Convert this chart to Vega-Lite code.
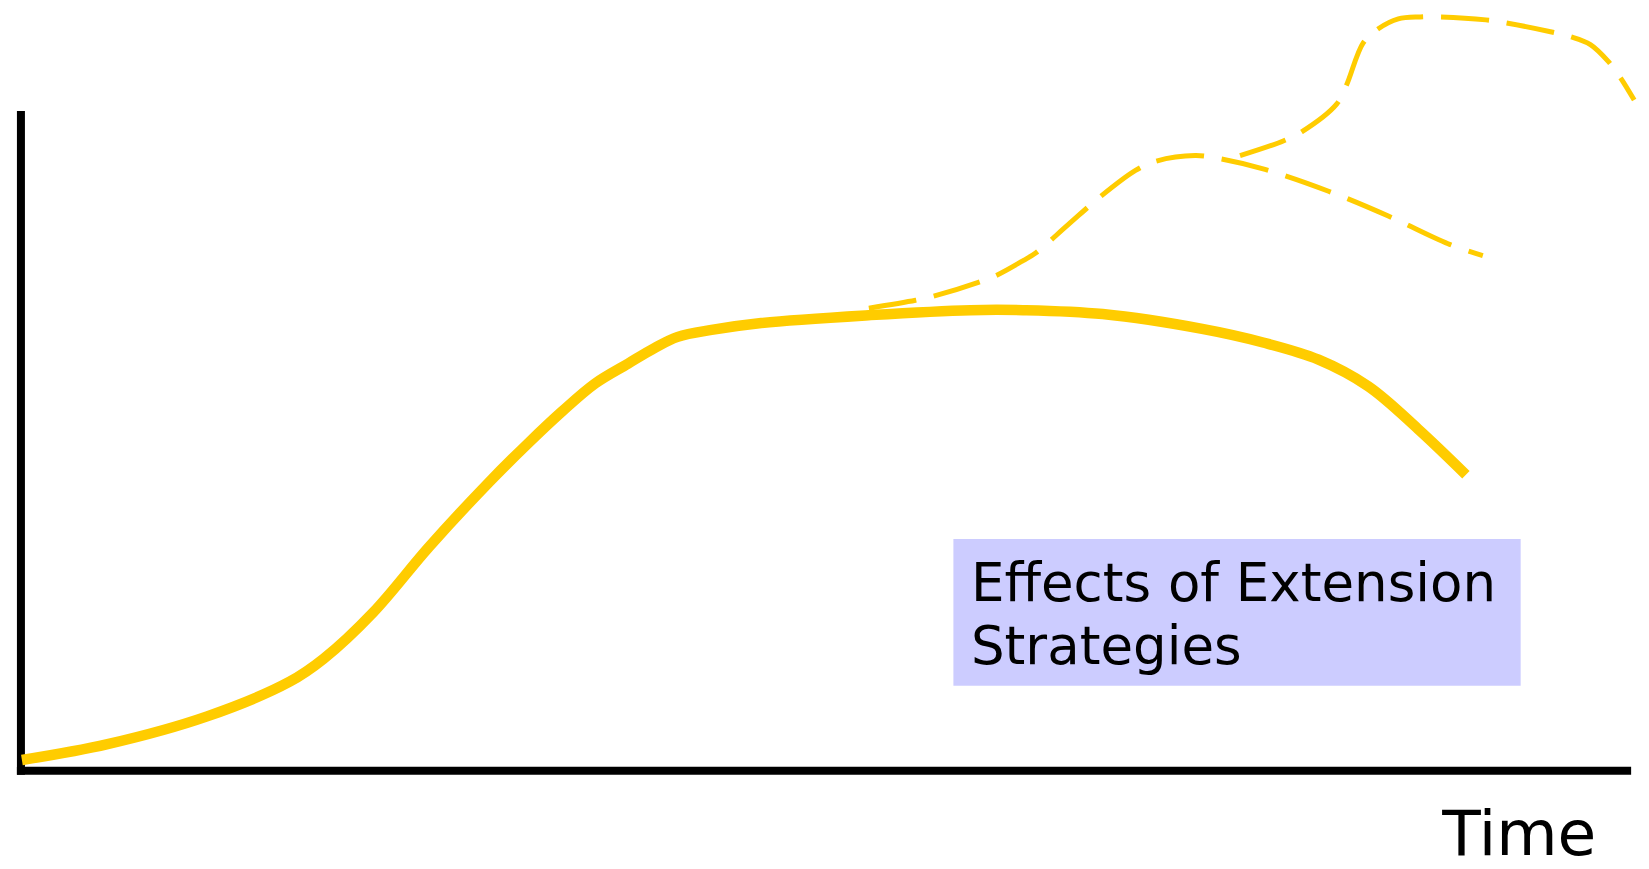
{
  "$schema": "https://vega.github.io/schema/vega-lite/v6.json",
  "autosize": {"type": "fit", "contains": "padding"},
  "width": 1649,
  "height": 869,
  "padding": 0,
  "background": "#ffffff",
  "config": {"view": {"stroke": null}},
  "datasets": {
    "curves": [
      {"series": "Sales", "t": 0.06, "s": 1.65},
      {"series": "Sales", "t": 5.38, "s": 4.05},
      {"series": "Sales", "t": 11.56, "s": 8.26},
      {"series": "Sales", "t": 16.69, "s": 13.51},
      {"series": "Sales", "t": 18.79, "s": 16.97},
      {"series": "Sales", "t": 21.88, "s": 24.02},
      {"series": "Sales", "t": 25.34, "s": 33.93},
      {"series": "Sales", "t": 29.05, "s": 43.69},
      {"series": "Sales", "t": 31.52, "s": 49.70},
      {"series": "Sales", "t": 33.62, "s": 54.50},
      {"series": "Sales", "t": 35.66, "s": 58.71},
      {"series": "Sales", "t": 37.70, "s": 61.71},
      {"series": "Sales", "t": 39.37, "s": 64.11},
      {"series": "Sales", "t": 40.79, "s": 65.77},
      {"series": "Sales", "t": 42.89, "s": 66.82},
      {"series": "Sales", "t": 45.98, "s": 67.87},
      {"series": "Sales", "t": 52.78, "s": 69.07},
      {"series": "Sales", "t": 58.96, "s": 69.82},
      {"series": "Sales", "t": 62.24, "s": 69.82},
      {"series": "Sales", "t": 67.18, "s": 69.22},
      {"series": "Sales", "t": 73.36, "s": 66.97},
      {"series": "Sales", "t": 77.14, "s": 64.91},
      {"series": "Sales", "t": 80.59, "s": 62.31},
      {"series": "Sales", "t": 83.68, "s": 58.26},
      {"series": "Sales", "t": 86.77, "s": 51.80},
      {"series": "Sales", "t": 89.74, "s": 44.89},
      {"series": "Extension 1", "t": 52.66, "s": 70.12},
      {"series": "Extension 1", "t": 55.56, "s": 71.32},
      {"series": "Extension 1", "t": 56.67, "s": 71.92},
      {"series": "Extension 1", "t": 59.46, "s": 74.02},
      {"series": "Extension 1", "t": 60.57, "s": 75.08},
      {"series": "Extension 1", "t": 62.24, "s": 77.33},
      {"series": "Extension 1", "t": 63.04, "s": 78.53},
      {"series": "Extension 1", "t": 65.02, "s": 82.73},
      {"series": "Extension 1", "t": 67.00, "s": 86.94},
      {"series": "Extension 1", "t": 69.22, "s": 90.99},
      {"series": "Extension 1", "t": 70.46, "s": 92.37},
      {"series": "Extension 1", "t": 72.93, "s": 93.24},
      {"series": "Extension 1", "t": 74.41, "s": 92.79},
      {"series": "Extension 1", "t": 77.26, "s": 91.14},
      {"series": "Extension 1", "t": 81.21, "s": 87.84},
      {"series": "Extension 1", "t": 84.92, "s": 84.08},
      {"series": "Extension 1", "t": 88.63, "s": 79.88},
      {"series": "Extension 1", "t": 90.79, "s": 78.08},
      {"series": "Extension 2", "t": 75.71, "s": 93.24},
      {"series": "Extension 2", "t": 78.43, "s": 95.50},
      {"series": "Extension 2", "t": 79.54, "s": 96.85},
      {"series": "Extension 2", "t": 81.71, "s": 101.05},
      {"series": "Extension 2", "t": 82.32, "s": 103.90},
      {"series": "Extension 2", "t": 83.37, "s": 110.36},
      {"series": "Extension 2", "t": 84.30, "s": 112.46},
      {"series": "Extension 2", "t": 85.54, "s": 113.96},
      {"series": "Extension 2", "t": 86.90, "s": 114.26},
      {"series": "Extension 2", "t": 88.20, "s": 114.26},
      {"series": "Extension 2", "t": 90.98, "s": 113.81},
      {"series": "Extension 2", "t": 92.21, "s": 113.36},
      {"series": "Extension 2", "t": 94.99, "s": 112.01},
      {"series": "Extension 2", "t": 96.23, "s": 111.26},
      {"series": "Extension 2", "t": 97.47, "s": 110.06},
      {"series": "Extension 2", "t": 98.58, "s": 107.51},
      {"series": "Extension 2", "t": 99.32, "s": 105.10},
      {"series": "Extension 2", "t": 100.19, "s": 101.65}
    ],
    "axes": [
      {"axis": "y", "t1": 0, "t2": 0, "s1": -0.6, "s2": 100},
      {"axis": "x", "t1": -0.25, "t2": 100, "s1": 0, "s2": 0}
    ],
    "box": [
      {"t1": 57.91, "t2": 93.14, "s1": 12.91, "s2": 35.14}
    ],
    "labels": [
      {"label": "Effects of Extension", "t": 59.0, "s": 25.68, "kind": "box"},
      {"label": "Strategies", "t": 59.0, "s": 16.22, "kind": "box"},
      {"label": "Time", "t": 97.84, "s": -12.76, "kind": "axis"}
    ]
  },
  "layer": [
    {
      "data": {"name": "box"},
      "mark": {"type": "rect", "color": "#CCCCFF"},
      "encoding": {
        "x": {"field": "t1", "type": "quantitative", "scale": {"domain": [-0.803, 101.11], "nice": false, "zero": false}, "axis": null},
        "x2": {"field": "t2"},
        "y": {"field": "s1", "type": "quantitative", "scale": {"domain": [-13.66, 116.82], "nice": false, "zero": false}, "axis": null},
        "y2": {"field": "s2"}
      }
    },
    {
      "data": {"name": "axes"},
      "mark": {"type": "rule", "color": "#000000", "strokeWidth": 8, "strokeCap": "butt"},
      "encoding": {
        "x": {"field": "t1", "type": "quantitative"},
        "x2": {"field": "t2"},
        "y": {"field": "s1", "type": "quantitative"},
        "y2": {"field": "s2"}
      }
    },
    {
      "data": {"name": "curves"},
      "transform": [{"filter": "datum.series === 'Sales'"}],
      "mark": {"type": "line", "color": "#FFCC00", "strokeWidth": 10.5, "interpolate": "catmull-rom", "strokeCap": "butt"},
      "encoding": {
        "x": {"field": "t", "type": "quantitative"},
        "y": {"field": "s", "type": "quantitative"}
      }
    },
    {
      "data": {"name": "curves"},
      "transform": [{"filter": "datum.series !== 'Sales'"}],
      "mark": {"type": "line", "color": "#FFCC00", "strokeWidth": 5, "interpolate": "catmull-rom", "strokeDash": [48, 18], "strokeCap": "butt"},
      "encoding": {
        "x": {"field": "t", "type": "quantitative"},
        "y": {"field": "s", "type": "quantitative"},
        "detail": {"field": "series"}
      }
    },
    {
      "data": {"name": "labels"},
      "transform": [{"filter": "datum.kind === 'box'"}],
      "mark": {"type": "text", "font": "DejaVu Sans", "fontSize": 53, "align": "left", "baseline": "alphabetic", "color": "#000000"},
      "encoding": {
        "x": {"field": "t", "type": "quantitative"},
        "y": {"field": "s", "type": "quantitative"},
        "text": {"field": "label"}
      }
    },
    {
      "data": {"name": "labels"},
      "transform": [{"filter": "datum.kind === 'axis'"}],
      "mark": {"type": "text", "font": "DejaVu Sans", "fontSize": 63, "align": "right", "baseline": "alphabetic", "color": "#000000"},
      "encoding": {
        "x": {"field": "t", "type": "quantitative"},
        "y": {"field": "s", "type": "quantitative"},
        "text": {"field": "label"}
      }
    }
  ]
}
